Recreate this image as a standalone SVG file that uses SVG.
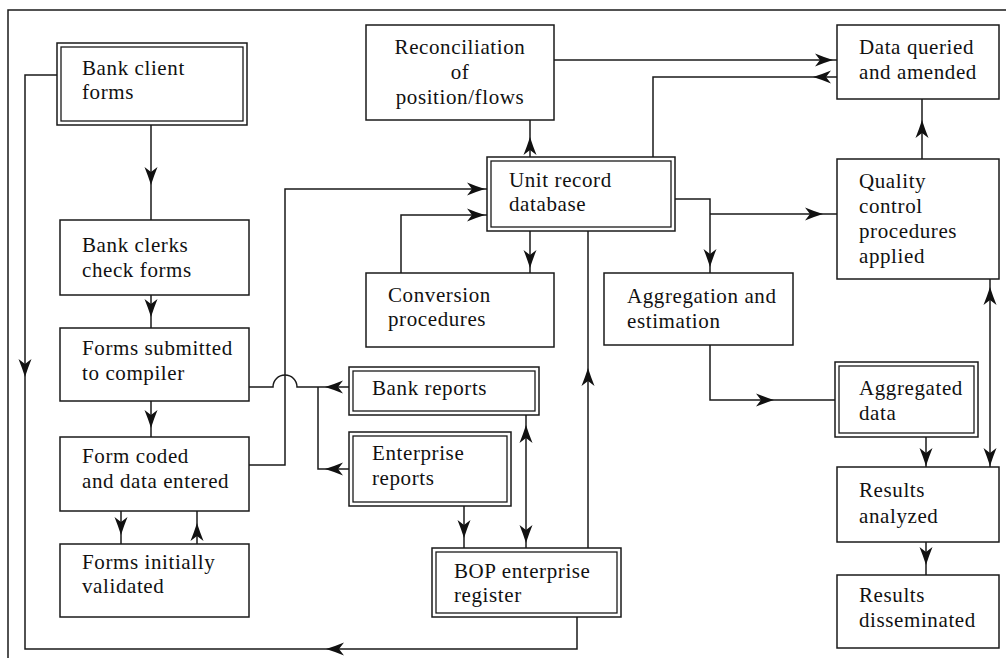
<svg xmlns="http://www.w3.org/2000/svg" xmlns:xlink="http://www.w3.org/1999/xlink" width="1006" height="658" viewBox="0 0 1006 658">
<defs>
<style>
.box{fill:#fff;stroke:#1a1a1a;stroke-width:1.5}
.in{fill:none;stroke:#1a1a1a;stroke-width:1.3}
.ln{fill:none;stroke:#1a1a1a;stroke-width:1.5}
text{font-family:"Liberation Serif","Times New Roman",serif;font-size:21px;letter-spacing:0.6px;fill:#111}
.c{text-anchor:middle}
</style>
<path id="ah" d="M0,0 C-6,-2 -12,-4 -18,-6.5 L-13,0 L-18,6.5 C-12,4 -6,2 0,0 Z" fill="#111"/>
</defs>
<rect width="1006" height="658" fill="#fff"/>
<path class="ln" d="M8,658 V10 H1006"/>

<g id="connectors">
<path class="ln" d="M57,75 H25 V649 H577 V617"/>
<use href="#ah" transform="translate(25,377) rotate(90)"/>
<use href="#ah" transform="translate(326,649) rotate(180)"/>
<path class="ln" d="M151,125 V220"/>
<use href="#ah" transform="translate(151,185) rotate(90)"/>
<path class="ln" d="M151,295 V328"/>
<use href="#ah" transform="translate(151,317) rotate(90)"/>
<path class="ln" d="M151,401 V437"/>
<use href="#ah" transform="translate(151,428) rotate(90)"/>
<path class="ln" d="M121,511 V544"/>
<use href="#ah" transform="translate(121,535) rotate(90)"/>
<path class="ln" d="M197,544 V511"/>
<use href="#ah" transform="translate(197,523) rotate(-90)"/>
<path class="ln" d="M249,465 H285 V189 H487"/>
<use href="#ah" transform="translate(485,189)"/>
<path class="ln" d="M349,387 H297 A12,12 0 0 0 273,387 H249"/>
<path class="ln" d="M349,469 H318 V387"/>
<use href="#ah" transform="translate(325,387) rotate(180)"/>
<use href="#ah" transform="translate(325,469) rotate(180)"/>
<path class="ln" d="M464,506 V548"/>
<use href="#ah" transform="translate(464,538) rotate(90)"/>
<path class="ln" d="M526,415 V548"/>
<use href="#ah" transform="translate(526,425) rotate(-90)"/>
<use href="#ah" transform="translate(526,543) rotate(90)"/>
<path class="ln" d="M588,548 V231"/>
<use href="#ah" transform="translate(588,368) rotate(-90)"/>
<path class="ln" d="M401,273 V215 H487"/>
<use href="#ah" transform="translate(485,215)"/>
<path class="ln" d="M530,231 V273"/>
<use href="#ah" transform="translate(530,268) rotate(90)"/>
<path class="ln" d="M530,157 V120"/>
<use href="#ah" transform="translate(530,137) rotate(-90)"/>
<path class="ln" d="M554,60 H837"/>
<use href="#ah" transform="translate(833,60)"/>
<path class="ln" d="M837,77 H653 V157"/>
<use href="#ah" transform="translate(813,77) rotate(180)"/>
<path class="ln" d="M675,199 H710 V273 M710,214 H837"/>
<use href="#ah" transform="translate(710,267) rotate(90)"/>
<use href="#ah" transform="translate(823,214)"/>
<path class="ln" d="M710,345 V400 H835"/>
<use href="#ah" transform="translate(774,400)"/>
<path class="ln" d="M922,159 V99"/>
<use href="#ah" transform="translate(922,120) rotate(-90)"/>
<path class="ln" d="M990,279 V467"/>
<use href="#ah" transform="translate(990,287) rotate(-90)"/>
<use href="#ah" transform="translate(990,466) rotate(90)"/>
<path class="ln" d="M926,437 V467"/>
<use href="#ah" transform="translate(926,466) rotate(90)"/>
<path class="ln" d="M926,542 V575"/>
<use href="#ah" transform="translate(926,565) rotate(90)"/>
</g>

<g id="bankClient"><rect class="box" x="57" y="43" width="190" height="82"/><rect class="in" x="61" y="47" width="182" height="74"/>
<text x="82" y="75">Bank client</text><text x="82" y="99">forms</text></g>
<g id="bankClerks"><rect class="box" x="60" y="220" width="189" height="75"/>
<text x="82" y="252">Bank clerks</text><text x="82" y="277">check forms</text></g>
<g id="formsSubmitted"><rect class="box" x="60" y="328" width="189" height="73"/>
<text x="82" y="355">Forms submitted</text><text x="82" y="380">to compiler</text></g>
<g id="formCoded"><rect class="box" x="60" y="437" width="189" height="74"/>
<text x="82" y="463">Form coded</text><text x="82" y="488">and data entered</text></g>
<g id="formsValidated"><rect class="box" x="60" y="544" width="189" height="73"/>
<text x="82" y="569">Forms initially</text><text x="82" y="593">validated</text></g>
<g id="reconciliation"><rect class="box" x="366" y="25" width="188" height="95"/>
<text class="c" x="460" y="54">Reconciliation</text><text class="c" x="460" y="79">of</text><text class="c" x="460" y="104">position/flows</text></g>
<g id="unitRecord"><rect class="box" x="487" y="157" width="188" height="74"/><rect class="in" x="491" y="161" width="180" height="66"/>
<text x="509" y="187">Unit record</text><text x="509" y="211">database</text></g>
<g id="conversion"><rect class="box" x="366" y="273" width="188" height="74"/>
<text x="388" y="302">Conversion</text><text x="388" y="326">procedures</text></g>
<g id="aggregation"><rect class="box" x="604" y="273" width="189" height="72"/>
<text x="627" y="303">Aggregation and</text><text x="627" y="328">estimation</text></g>
<g id="dataQueried"><rect class="box" x="837" y="25" width="162" height="74"/>
<text x="859" y="54">Data queried</text><text x="859" y="79">and amended</text></g>
<g id="quality"><rect class="box" x="837" y="159" width="162" height="120"/>
<text x="859" y="188">Quality</text><text x="859" y="213">control</text><text x="859" y="238">procedures</text><text x="859" y="263">applied</text></g>
<g id="aggregatedData"><rect class="box" x="835" y="362" width="143" height="75"/><rect class="in" x="839" y="366" width="135" height="67"/>
<text x="859" y="395">Aggregated</text><text x="859" y="420">data</text></g>
<g id="resultsAnalyzed"><rect class="box" x="837" y="467" width="162" height="75"/>
<text x="859" y="497">Results</text><text x="859" y="523">analyzed</text></g>
<g id="resultsDisseminated"><rect class="box" x="837" y="575" width="162" height="73"/>
<text x="859" y="602">Results</text><text x="859" y="627">disseminated</text></g>
<g id="bankReports"><rect class="box" x="349" y="367" width="190" height="48"/><rect class="in" x="353" y="371" width="182" height="40"/>
<text x="372" y="395">Bank reports</text></g>
<g id="enterpriseReports"><rect class="box" x="349" y="432" width="162" height="74"/><rect class="in" x="353" y="436" width="154" height="66"/>
<text x="372" y="460">Enterprise</text><text x="372" y="485">reports</text></g>
<g id="bopRegister"><rect class="box" x="432" y="548" width="189" height="69"/><rect class="in" x="436" y="552" width="181" height="61"/>
<text x="454" y="578">BOP enterprise</text><text x="454" y="602">register</text></g>
</svg>
